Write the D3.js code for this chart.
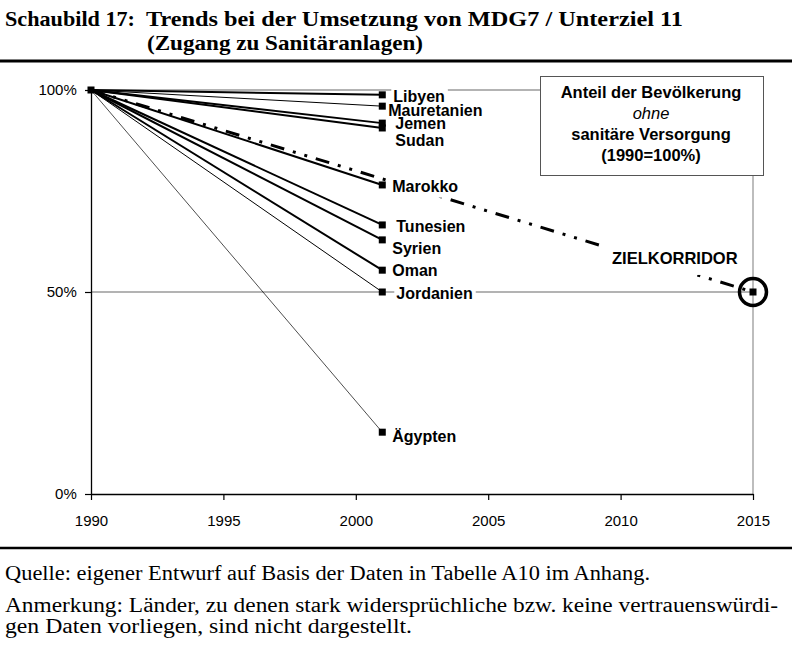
<!DOCTYPE html>
<html><head><meta charset="utf-8">
<script src="https://cdn.jsdelivr.net/npm/d3@7"></script>
<style>body{margin:0;background:#fff}svg{display:block}</style>
</head><body><svg id="c" width="792" height="649"></svg>
<script>
const countries = ["Libyen","Mauretanien","Jemen","Sudan","Marokko","Tunesien","Syrien","Oman","Jordanien","Ägypten"];
const baseYear = 1990;
const obsYear = 2001;
const baseValue = 100;
const values2001 = [98.8, 96.0, 91.8, 90.6, 76.5, 66.6, 62.9, 55.4, 50.0, 15.3];
const targetYear = 2015;
const targetValue = 50;
const xTicks = [1990, 1995, 2000, 2005, 2010, 2015];
const yTicks = [0, 50, 100];
const yTickLabels = ["0%", "50%", "100%"];
const legendLines = ["Anteil der Bevölkerung", "ohne", "sanitäre Versorgung", "(1990=100%)"];
const targetLabel = "ZIELKORRIDOR";

// styles (not data)
const lineWidth = {"Libyen":2,"Mauretanien":1,"Jemen":2,"Sudan":2,"Marokko":2,"Tunesien":2,"Syrien":2,"Oman":2,"Jordanien":1,"Ägypten":0.7};
const labelShift = {"Libyen":[11,1],"Mauretanien":[6,4],"Jemen":[13,0],"Sudan":[13,12],"Marokko":[10,1],"Tunesien":[14,1],"Syrien":[10,8],"Oman":[10,0],"Jordanien":[14,1],"Ägypten":[10,4]};

const svg = d3.select("#c");
const x = d3.scaleLinear().domain([1990, 2015]).range([91, 753]);
const y = d3.scaleLinear().domain([0, 100]).range([494, 90]);

const serif = "'Liberation Serif','Times New Roman',serif";
const sans = "'Liberation Sans',Arial,sans-serif";
// title
svg.append("text").attr("x",5).attr("y",26).attr("font-family",serif).attr("font-weight","bold").attr("font-size",21.5)
  .attr("textLength",130).attr("lengthAdjust","spacingAndGlyphs").text("Schaubild 17:");
svg.append("text").attr("x",146).attr("y",26).attr("font-family",serif).attr("font-weight","bold").attr("font-size",21.5)
  .attr("textLength",537).attr("lengthAdjust","spacingAndGlyphs").text("Trends bei der Umsetzung von MDG7 / Unterziel 11");
svg.append("text").attr("x",147).attr("y",50).attr("font-family",serif).attr("font-weight","bold").attr("font-size",21.5)
  .attr("textLength",276).attr("lengthAdjust","spacingAndGlyphs").text("(Zugang zu Sanitäranlagen)");
svg.append("line").attr("x1",0).attr("x2",792).attr("y1",61).attr("y2",61).attr("stroke","#000").attr("stroke-width",3);

// gridlines & plot border
const gray = "#9a9a9a";
svg.append("g").selectAll("line").data(yTicks.filter(d=>d>0)).join("line")
  .attr("x1",x(1990)).attr("x2",x(2015)).attr("y1",d=>y(d)).attr("y2",d=>y(d))
  .attr("stroke",gray).attr("stroke-width",1.3);
svg.append("line").attr("x1",x(2015)).attr("x2",x(2015)).attr("y1",y(100)).attr("y2",y(0)).attr("stroke",gray).attr("stroke-width",1.3);

// axes
const xAxis = svg.append("g").attr("transform",`translate(0,${y(0)})`)
  .call(d3.axisBottom(x).tickValues(xTicks).tickFormat(d3.format("d")).tickSize(6).tickSizeOuter(0));
const yAxis = svg.append("g").attr("transform",`translate(${x(1990)},0)`)
  .call(d3.axisLeft(y).tickValues(yTicks).tickFormat((d,i)=>yTickLabels[i]).tickSize(6).tickSizeOuter(0));
[xAxis,yAxis].forEach(a=>{
  a.select(".domain").attr("stroke","#000").attr("stroke-width",1.3);
  a.selectAll(".tick line").attr("stroke","#000").attr("stroke-width",1.2);
  a.selectAll("text").attr("font-family",sans).attr("font-size",15).attr("fill","#000");
});
xAxis.selectAll("text").attr("dy","1.55em");
yAxis.selectAll("text").attr("dx","-0.35em");

// target dash-dot line
svg.append("line").attr("x1",x(baseYear)).attr("y1",y(baseValue)).attr("x2",x(targetYear)).attr("y2",y(targetValue))
  .attr("stroke","#000").attr("stroke-width",3).attr("stroke-dasharray","14,9,3,9,3,9");

// series lines
const data = countries.map((c,i)=>({name:c, v:values2001[i]}));
svg.append("g").selectAll("line").data(data).join("line")
  .attr("x1",x(baseYear)).attr("y1",y(baseValue)).attr("x2",x(obsYear)).attr("y2",d=>y(d.v))
  .attr("stroke","#000").attr("stroke-width",d=>lineWidth[d.name]);

// markers
const ms = 7;
svg.append("g").selectAll("rect").data(data).join("rect")
  .attr("x",x(obsYear)-ms/2).attr("y",d=>y(d.v)-ms/2).attr("width",ms).attr("height",ms).attr("fill","#000");
svg.append("rect").attr("x",x(baseYear)-ms/2).attr("y",y(baseValue)-ms/2).attr("width",ms).attr("height",ms).attr("fill","#000");

// labels with white background (backgrounds first, then all texts)
const bgG = svg.append("g");
const txG = svg.append("g");
data.forEach(d=>{
  const t = txG.append("text").attr("x",x(obsYear)+labelShift[d.name][0]).attr("y",y(d.v)+labelShift[d.name][1])
    .attr("dy","0.36em").attr("font-family",sans).attr("font-weight","bold").attr("font-size",16).attr("fill","#000").text(d.name);
  const b = t.node().getBBox();
  bgG.append("rect").attr("x",b.x-2).attr("y",b.y-3).attr("width",b.width+5).attr("height",b.height+6).attr("fill","#fff");
});
// target label with background
const tg = svg.append("g");
const tt = tg.append("text").attr("x",612).attr("y",258).attr("dy","0.36em").attr("font-family",sans).attr("font-weight","bold").attr("font-size",16.5)
  .attr("fill","#000").text(targetLabel);
const tb = tt.node().getBBox();
tg.insert("rect","text").attr("x",tb.x-12).attr("y",tb.y-6).attr("width",tb.width-12).attr("height",tb.height+14).attr("fill","#fff");

// target marker
svg.append("rect").attr("x",x(targetYear)-ms/2).attr("y",y(targetValue)-ms/2).attr("width",ms).attr("height",ms).attr("fill","#000");
svg.append("circle").attr("cx",x(targetYear)).attr("cy",y(targetValue)).attr("r",13.5).attr("fill","none").attr("stroke","#000").attr("stroke-width",3.5);

// legend box
svg.append("rect").attr("x",540.5).attr("y",76.5).attr("width",223).attr("height",99).attr("fill","#fff").attr("stroke","#555").attr("stroke-width",1);
const ly = [92, 113, 134, 155];
legendLines.forEach((s,i)=>{
  svg.append("text").attr("x",651).attr("y",ly[i]).attr("dy","0.36em").attr("text-anchor","middle")
    .attr("font-family",sans).attr("font-size",16.5).attr("font-weight",i===1?"normal":"bold").attr("font-style",i===1?"italic":"normal")
    .attr("fill","#000").text(s);
});

// footer
svg.append("line").attr("x1",0).attr("x2",792).attr("y1",548).attr("y2",548).attr("stroke","#000").attr("stroke-width",2.5);
const foot = [["Quelle: eigener Entwurf auf Basis der Daten in Tabelle A10 im Anhang.",580,645],
  ["Anmerkung: Länder, zu denen stark widersprüchliche bzw. keine vertrauenswürdi-",612,773],
  ["gen Daten vorliegen, sind nicht dargestellt.",633,407]];
foot.forEach(f=>{
  svg.append("text").attr("x",5).attr("y",f[1]).attr("font-family",serif).attr("font-size",20)
    .attr("textLength",f[2]).attr("lengthAdjust","spacingAndGlyphs").attr("fill","#000").text(f[0]);
});
</script></body></html>
